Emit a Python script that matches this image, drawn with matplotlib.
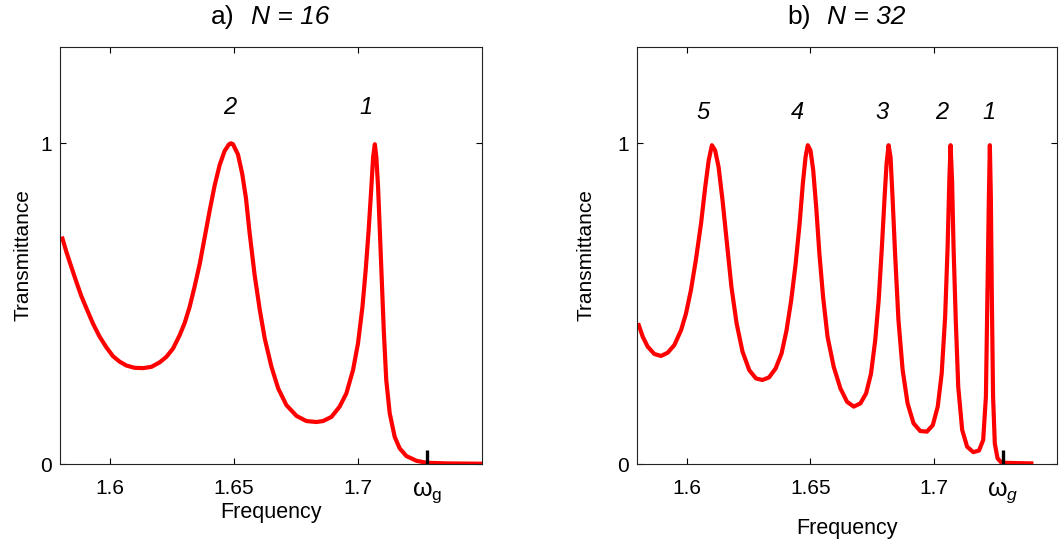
import matplotlib
matplotlib.use('Agg')
import matplotlib.pyplot as plt
import matplotlib.transforms as mtransforms

plt.rcParams['font.family'] = ['Liberation Sans', 'DejaVu Sans']
plt.rcParams['mathtext.fontset'] = 'custom'
plt.rcParams['mathtext.rm'] = 'Liberation Sans'
plt.rcParams['mathtext.it'] = 'Liberation Sans:italic'

# panel a) N = 16
freq_a = [1.5808, 1.5824, 1.5844, 1.5864, 1.5884, 1.5905, 1.5931, 1.5958, 1.5985,
          1.6012, 1.6039, 1.6066, 1.6099, 1.6133, 1.6167, 1.6200, 1.6227, 1.6254,
          1.6281, 1.6301, 1.6321, 1.6341, 1.6362, 1.6382, 1.6402, 1.6422, 1.6442,
          1.6462, 1.6480, 1.6488, 1.6496, 1.6516, 1.6533, 1.6548, 1.6563, 1.6583,
          1.6604, 1.6624, 1.6651, 1.6678, 1.6711, 1.6752, 1.6792, 1.6832, 1.6859,
          1.6893, 1.6926, 1.6953, 1.6980, 1.7000, 1.7018, 1.7031, 1.7043, 1.7054,
          1.7061, 1.7068, 1.7074, 1.7081, 1.7088, 1.7096, 1.7104, 1.7114, 1.7128,
          1.7148, 1.7168, 1.7195, 1.7236, 1.7276, 1.7357, 1.7495]
trans_a = [0.703, 0.661, 0.614, 0.568, 0.524, 0.485, 0.438, 0.397, 0.364,
           0.336, 0.319, 0.307, 0.300, 0.299, 0.303, 0.317, 0.334, 0.360,
           0.402, 0.440, 0.490, 0.553, 0.625, 0.708, 0.791, 0.869, 0.932,
           0.976, 0.997, 1.000, 0.997, 0.965, 0.905, 0.830, 0.720, 0.590,
           0.480, 0.391, 0.303, 0.236, 0.184, 0.150, 0.134, 0.131, 0.134,
           0.147, 0.179, 0.220, 0.293, 0.376, 0.490, 0.604, 0.729, 0.864,
           0.957, 0.997, 0.957, 0.864, 0.729, 0.573, 0.417, 0.262, 0.158,
           0.085, 0.049, 0.025, 0.010, 0.004, 0.002, 0.001]

# panel b) N = 32
freq_b = [1.5806, 1.5822, 1.5842, 1.5869, 1.5896, 1.5923, 1.5950, 1.5977, 1.5997,
          1.6017, 1.6037, 1.6058, 1.6075, 1.6089, 1.6102, 1.6115, 1.6129, 1.6145,
          1.6163, 1.6181, 1.6202, 1.6226, 1.6253, 1.6280, 1.6306, 1.6333, 1.6360,
          1.6384, 1.6404, 1.6423, 1.6441, 1.6457, 1.6470, 1.6481, 1.6490, 1.6501,
          1.6512, 1.6524, 1.6537, 1.6552, 1.6570, 1.6595, 1.6622, 1.6649, 1.6676,
          1.6703, 1.6726, 1.6746, 1.6763, 1.6777, 1.6790, 1.6801, 1.6809, 1.6817,
          1.6825, 1.6833, 1.6844, 1.6857, 1.6874, 1.6894, 1.6918, 1.6945, 1.6972,
          1.6996, 1.7016, 1.7032, 1.7046, 1.7056, 1.7063, 1.7068, 1.7074, 1.7080,
          1.7089, 1.7099, 1.7115, 1.7135, 1.7160, 1.7183, 1.7200, 1.7211, 1.7217,
          1.7223, 1.7227, 1.7231, 1.7235, 1.7240, 1.7247, 1.7258, 1.7274, 1.7395]
trans_b = [0.433, 0.397, 0.366, 0.343, 0.337, 0.347, 0.371, 0.417, 0.469,
           0.542, 0.636, 0.750, 0.864, 0.947, 0.994, 0.978, 0.926, 0.822,
           0.687, 0.552, 0.438, 0.350, 0.293, 0.267, 0.262, 0.270, 0.298,
           0.345, 0.417, 0.511, 0.625, 0.750, 0.874, 0.957, 0.994, 0.978,
           0.916, 0.802, 0.656, 0.521, 0.397, 0.303, 0.236, 0.194, 0.179,
           0.189, 0.220, 0.282, 0.386, 0.511, 0.677, 0.833, 0.937, 0.994,
           0.957, 0.833, 0.646, 0.449, 0.293, 0.189, 0.127, 0.103, 0.101,
           0.121, 0.179, 0.282, 0.459, 0.677, 0.885, 0.994, 0.885, 0.677,
           0.449, 0.241, 0.106, 0.054, 0.037, 0.042, 0.075, 0.210, 0.521,
           0.833, 0.994, 0.833, 0.521, 0.210, 0.064, 0.018, 0.004, 0.002]

omega_g = 1.728
labels_a = ['2', '1']
label_x_a = [1.6483, 1.7031]
labels_b = ['5', '4', '3', '2', '1']
label_x_b = [1.6066, 1.6449, 1.6792, 1.7034, 1.7223]


def panel(ax, freq, trans, labels, label_x, label_y, tag, ntext, split, wg, ylpad, xlpad):
    ax.plot(freq, trans, color='#ff0000', lw=3.0, solid_joinstyle='round')
    ax.plot([omega_g, omega_g], [0, 0.045], color='black', lw=2.4, solid_capstyle='butt')
    for s, x in zip(labels, label_x):
        ax.text(x, label_y, s, fontsize=17, style='italic', ha='center', va='center')
    ax.set_xlim(1.58, 1.75)
    ax.set_ylim(0, 1.3)
    ax.set_xticks([1.6, 1.65, 1.7])
    ax.set_xticklabels(['1.6', '1.65', '1.7'])
    ax.set_yticks([0, 1])
    ax.tick_params(direction='in', top=True, right=True, length=4, labelsize=15)
    ax.tick_params(axis='x', pad=11)
    ax.tick_params(axis='y', pad=6)
    ax.set_xlabel('Frequency', fontsize=15.5, labelpad=xlpad)
    ax.set_ylabel('Transmittance', fontsize=15, labelpad=ylpad)
    # title: plain tag, italic "N = .."
    ax.text(split[0], 1.072, tag, transform=ax.transAxes, fontsize=19, ha='right', va='center')
    ax.text(split[1], 1.072, ntext, transform=ax.transAxes, fontsize=19, style='italic',
            ha='left', va='center')
    tr = mtransforms.blended_transform_factory(ax.transData, ax.transAxes)
    ax.text(omega_g, -0.068, wg, transform=tr, fontsize=18, ha='center', va='center')
    for sp in ax.spines.values():
        sp.set_color('#222222')


def main():
    fig = plt.figure(figsize=(10.59, 5.44), dpi=100)
    ax1 = fig.add_axes([0.0571, 0.147, 0.398, 0.7665])
    ax2 = fig.add_axes([0.6018, 0.147, 0.3966, 0.7665])
    panel(ax1, freq_a, trans_a, labels_a, label_x_a, 1.11, 'a)', 'N = 16', (0.414, 0.451),
          r'$\mathrm{\omega}_\mathrm{g}$', 6, 3)
    panel(ax2, freq_b, trans_b, labels_b, label_x_b, 1.095, 'b)', 'N = 32', (0.413, 0.452),
          r'$\mathrm{\omega}_{g}$', 16, 14)
    fig.savefig('out.png', dpi=100)


if __name__ == '__main__':
    main()
